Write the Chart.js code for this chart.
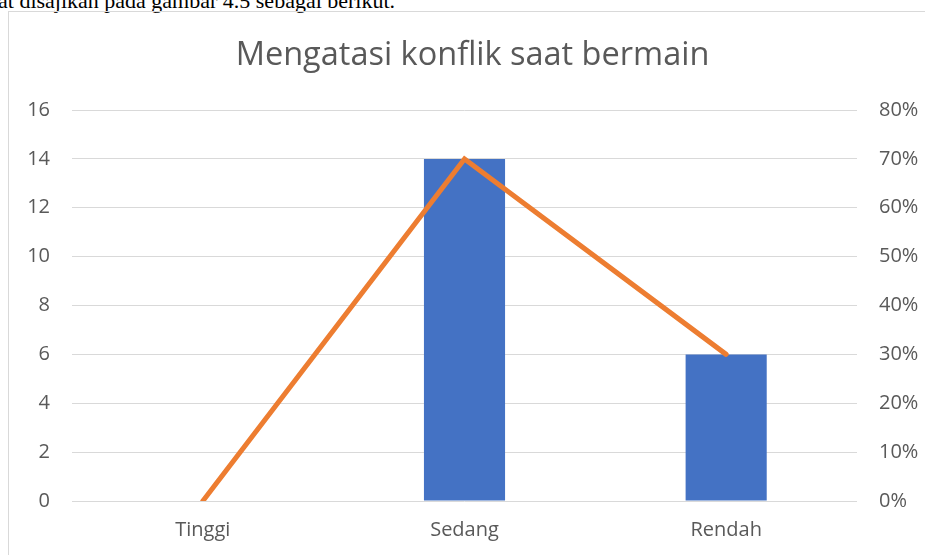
<!DOCTYPE html>
<html>
<head>
<meta charset="utf-8">
<script src="https://cdn.jsdelivr.net/npm/chart.js@4.4.1/dist/chart.umd.min.js"></script>
<style>
  html, body { margin: 0; padding: 0; background: #ffffff; overflow: hidden; width: 925px; height: 555px; }
  #topText { position: absolute; left: -2px; top: -10px; font-family: "Liberation Serif", serif; font-size: 22px; line-height: 22px; color: #000; white-space: nowrap; }
  #frame { position: absolute; left: 8px; top: 11px; width: 927px; height: 545px; border-left: 1px solid #d9d9d9; border-top: 1px solid #d9d9d9; }
  #wrap { position: absolute; left: 0; top: 0; width: 927px; height: 543px; }
</style>
</head>
<body>
<div id="topText">at disajikan pada gambar 4.5 sebagai berikut.</div>
<div id="frame"><div id="wrap"><canvas id="c"></canvas></div></div>
<script>
const chartTitle = "Mengatasi konflik saat bermain";
const categories = ["Tinggi", "Sedang", "Rendah"];
const barValues = [0, 14, 6];
const percentValues = [0, 70, 30];
const leftTicks = [0, 2, 4, 6, 8, 10, 12, 14, 16];
const rightTicks = [0, 10, 20, 30, 40, 50, 60, 70, 80];

const textColor = "#595959";
const fontFamily = "'Open Sans', sans-serif";

new Chart(document.getElementById("c"), {
  type: "bar",
  data: {
    labels: categories,
    datasets: [
      {
        type: "line",
        label: "Persentase",
        data: percentValues,
        yAxisID: "y1",
        borderColor: "#ED7D31",
        backgroundColor: "#ED7D31",
        borderWidth: 5,
        pointRadius: 0,
        borderCapStyle: "round",
        borderJoinStyle: "miter",
        tension: 0,
        order: 0
      },
      {
        type: "bar",
        label: "Jumlah",
        data: barValues,
        yAxisID: "y",
        backgroundColor: "#4472C4",
        borderWidth: 0,
        categoryPercentage: 1.0,
        barPercentage: 0.31,
        order: 1
      }
    ]
  },
  options: {
    responsive: true,
    maintainAspectRatio: false,
    animation: false,
    layout: { padding: 0 },
    plugins: {
      legend: { display: false },
      tooltip: { enabled: false },
      title: {
        display: true,
        text: chartTitle,
        color: textColor,
        font: { family: fontFamily, size: 32.5, weight: "normal", lineHeight: 1.2 },
        padding: { top: 24, bottom: 35 }
      }
    },
    scales: {
      x: {
        grid: { display: false, drawTicks: false },
        border: { display: false },
        ticks: { color: textColor, font: { family: fontFamily, size: 20 }, padding: 17 },
        afterFit: function (s) { s.height = 54; }
      },
      y: {
        position: "left",
        min: 0,
        max: 16,
        afterBuildTicks: function (s) { s.ticks = leftTicks.map(v => ({ value: v })); },
        grid: { color: "#d9d9d9", lineWidth: 1, drawTicks: false },
        border: { display: false },
        ticks: { color: textColor, font: { family: fontFamily, size: 20 }, padding: 22 },
        afterFit: function (s) { s.width = 63; }
      },
      y1: {
        position: "right",
        min: 0,
        max: 80,
        afterBuildTicks: function (s) { s.ticks = rightTicks.map(v => ({ value: v })); },
        grid: { display: false, drawTicks: false },
        border: { display: false },
        ticks: {
          color: textColor,
          font: { family: fontFamily, size: 20 },
          padding: 22,
          callback: function (v) { return v + "%"; }
        },
        afterFit: function (s) { s.width = 79; }
      }
    }
  }
});
</script>
</body>
</html>
